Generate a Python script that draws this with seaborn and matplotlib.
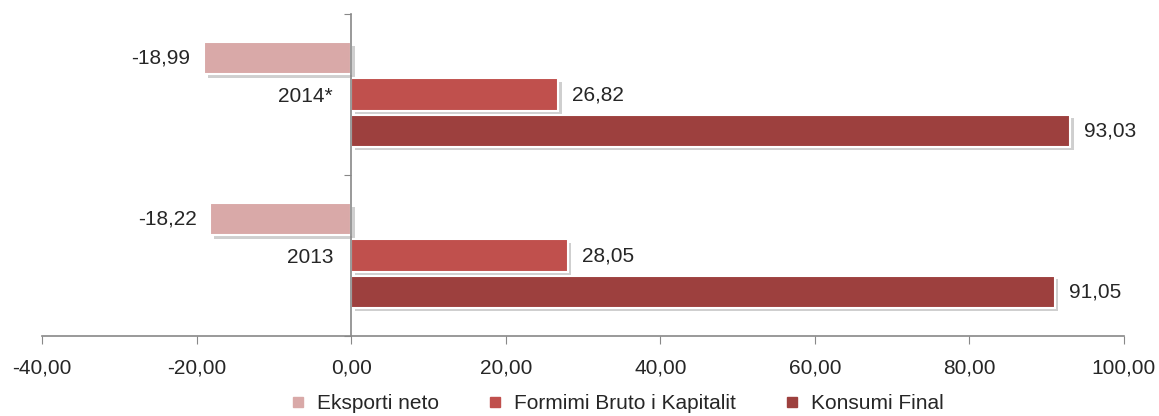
import matplotlib
matplotlib.use("Agg")
import matplotlib.pyplot as plt
import matplotlib.patheffects as pe
from matplotlib.lines import Line2D
from matplotlib.ticker import FuncFormatter
import seaborn as sns
import pandas as pd

years = ["2014*", "2013"]
series = ["Eksporti neto", "Formimi Bruto i Kapitalit", "Konsumi Final"]
eksporti = [-18.99, -18.22]
formimi = [26.82, 28.05]
konsumi = [93.03, 91.05]
colors = ["#D9A9A8", "#C0504D", "#9D403E"]

rows = []
for i, y in enumerate(years):
    for s, vals in zip(series, [eksporti, formimi, konsumi]):
        rows.append({"year": y, "series": s, "value": vals[i]})
df = pd.DataFrame(rows)

sns.set_style("white")
plt.rcParams["font.family"] = ["Liberation Sans", "DejaVu Sans"]
fs = 15

fig = plt.figure(figsize=(11.59, 4.16), dpi=100)
ax = fig.add_axes([0.0362, 0.1923, 0.9336, 0.774])

sns.barplot(data=df, x="value", y="year", hue="series", order=years,
            hue_order=series, palette=colors, saturation=1, orient="h", width=0.675,
            gap=0.11, edgecolor="white", linewidth=1.5, legend=False, ax=ax)

shadow = [pe.SimplePatchShadow(offset=(2.5, -2.5), shadow_rgbFace="#b0b0b0", alpha=0.6),
          pe.Normal()]
for p in ax.patches:
    p.set_path_effects(shadow)

fmt = lambda v: f"{v:.2f}".replace(".", ",")
for c in ax.containers:
    ax.bar_label(c, labels=[fmt(v) for v in c.datavalues], padding=10, fontsize=fs)

ax.set_xlim(-40, 100)
ax.set_ylim(1.5, -0.5)
ax.set_xticks(range(-40, 101, 20))
ax.xaxis.set_major_formatter(FuncFormatter(lambda v, _: fmt(v)))
ax.set_xlabel("")
ax.set_ylabel("")

# y axis at x=0, ticks at category boundaries, labels at centres
ax.spines["left"].set_position(("data", 0))
ax.spines["top"].set_visible(False)
ax.spines["right"].set_visible(False)
for s in ["left", "bottom"]:
    ax.spines[s].set_color("#888888")
    ax.spines[s].set_linewidth(1.2)
ax.set_yticks([-0.5, 0.5, 1.5])
ax.set_yticklabels([])
ax.set_yticks([0, 1], minor=True)
ax.set_yticklabels(years, minor=True)
ax.tick_params(axis="y", which="major", direction="out", length=5, color="#888888", left=True)
ax.tick_params(axis="y", which="minor", length=0, pad=13, labelsize=fs)
ax.tick_params(axis="x", direction="out", length=6, color="#888888", bottom=True,
               labelsize=fs, pad=10)

handles = [Line2D([0], [0], marker="s", linestyle="none", markersize=7,
                  markerfacecolor=c, markeredgecolor=c) for c in colors]
fig.legend(handles, series, loc="center", bbox_to_anchor=(0.531, 0.03), ncol=3,
           frameon=False, fontsize=fs, handlelength=1.0, handletextpad=0.4,
           columnspacing=2.2)

fig.savefig("out.png", dpi=100)
